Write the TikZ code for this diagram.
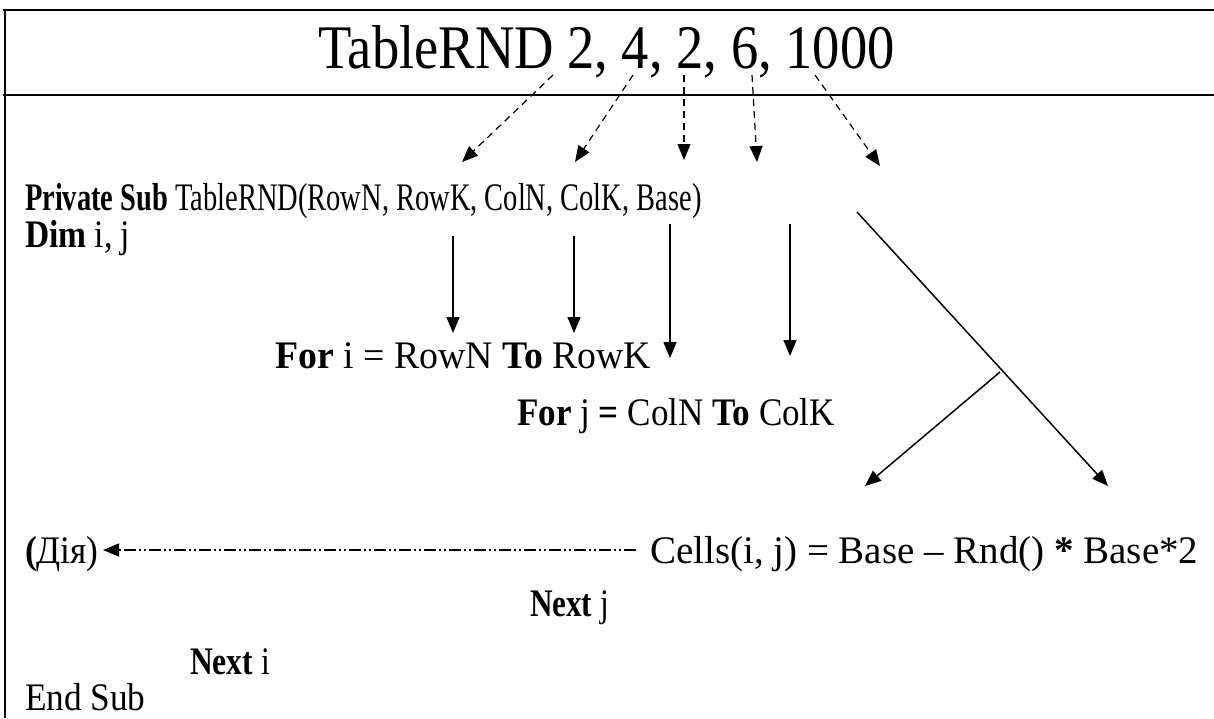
\documentclass[tikz,border=0pt]{standalone}
\usepackage{fontspec}
\setmainfont{Liberation Serif}
\usetikzlibrary{arrows.meta}
\begin{document}
\begin{tikzpicture}[x=1pt,y=-1pt,
  txt/.style={anchor=base west,inner sep=0pt,outer sep=0pt,font=\fontsize{39}{42}\selectfont},
  frameline/.style={line width=2.5pt},
  tip/.style={-{Triangle[length=16pt,width=13pt]}},
  dasharr/.style={tip,line width=1.2pt,dash pattern=on 7pt off 5pt},
  solarr/.style={tip,line width=1.5pt},
  dotarr/.style={tip,line width=1.2pt,dash pattern=on 12pt off 3pt on 2pt off 3pt on 2pt off 3pt}
]
\useasboundingbox (0,0) rectangle (1214,718);
% frame
\draw[frameline] (3,10) -- (1214,10);
\draw[frameline] (3,95) -- (1214,95);
\draw[frameline] (5,9) -- (5,718);
% title
\node[anchor=base west,inner sep=0pt,font=\fontsize{62}{66}\selectfont] (title) at (318,68) {\scalebox{0.88}[1]{TableRND 2, 4, 2, 6, 1000}};
% code lines
\node[txt] (priv) at (25,210) {\scalebox{0.73}[1]{\textbf{Private Sub} TableRND(RowN, RowK, ColN, ColK, Base)}};
\node[txt] (dim) at (25,247) {\scalebox{0.86}[1]{\textbf{Dim} i, j}};
\node[txt] (fori) at (275,368) {\scalebox{0.97}[1]{\textbf{For} i = RowN \textbf{To} RowK}};
\node[txt] (forj) at (517,425) {\scalebox{0.9}[1]{\textbf{For} j \textbf{=} ColN \textbf{To} ColK}};
\node[txt] (dia) at (25,563) {\scalebox{0.905}[1]{\textbf{(}Дія)}};
\node[txt] (cells) at (650,563) {Cells(i, j) = Base – Rnd() \textbf{*} Base*2};
\node[txt] (nextj) at (530,616) {\scalebox{0.8}[1]{\textbf{Next} j}};
\node[txt] (nexti) at (190,674) {\scalebox{0.81}[1]{\textbf{Next} i}};
\node[txt] (endsub) at (25,710) {\scalebox{0.905}[1]{End Sub}};
% dashed arrows from call arguments
\coordinate (a1) at (553,75);  \coordinate (p1) at (462,162);
\coordinate (a2) at (633,75);  \coordinate (p2) at (575,162);
\coordinate (a3) at (684,75);  \coordinate (p3) at (684,160);
\coordinate (a4) at (752,75);  \coordinate (p4) at (757,162);
\coordinate (a5) at (815,75);  \coordinate (p5) at (880,166);
\draw[dasharr] (a1) -- (p1);
\draw[dasharr] (a2) -- (p2);
\draw[dasharr] (a3) -- (p3);
\draw[dasharr] (a4) -- (p4);
\draw[dasharr] (a5) -- (p5);
% solid arrows from parameters
\coordinate (s1) at (453,236); \coordinate (t1) at (453,333);
\coordinate (s2) at (574,236); \coordinate (t2) at (574,333);
\coordinate (s3) at (670,224); \coordinate (t3) at (670,358);
\coordinate (s4) at (790,224); \coordinate (t4) at (790,356);
\draw[solarr] (s1) -- (t1);
\draw[solarr] (s2) -- (t2);
\draw[solarr] (s3) -- (t3);
\draw[solarr] (s4) -- (t4);
% diagonal arrows
\coordinate (b0) at (857,212); \coordinate (b1) at (1108,486);
\coordinate (c0) at (1000,372); \coordinate (c1) at (865,486);
\draw[solarr] (b0) -- (b1);
\draw[solarr] (c0) -- (c1);
% action arrow
\coordinate (d0) at (636,550); \coordinate (d1) at (103,550);
\draw[dotarr] (d0) -- (d1);
\end{tikzpicture}
\end{document}
